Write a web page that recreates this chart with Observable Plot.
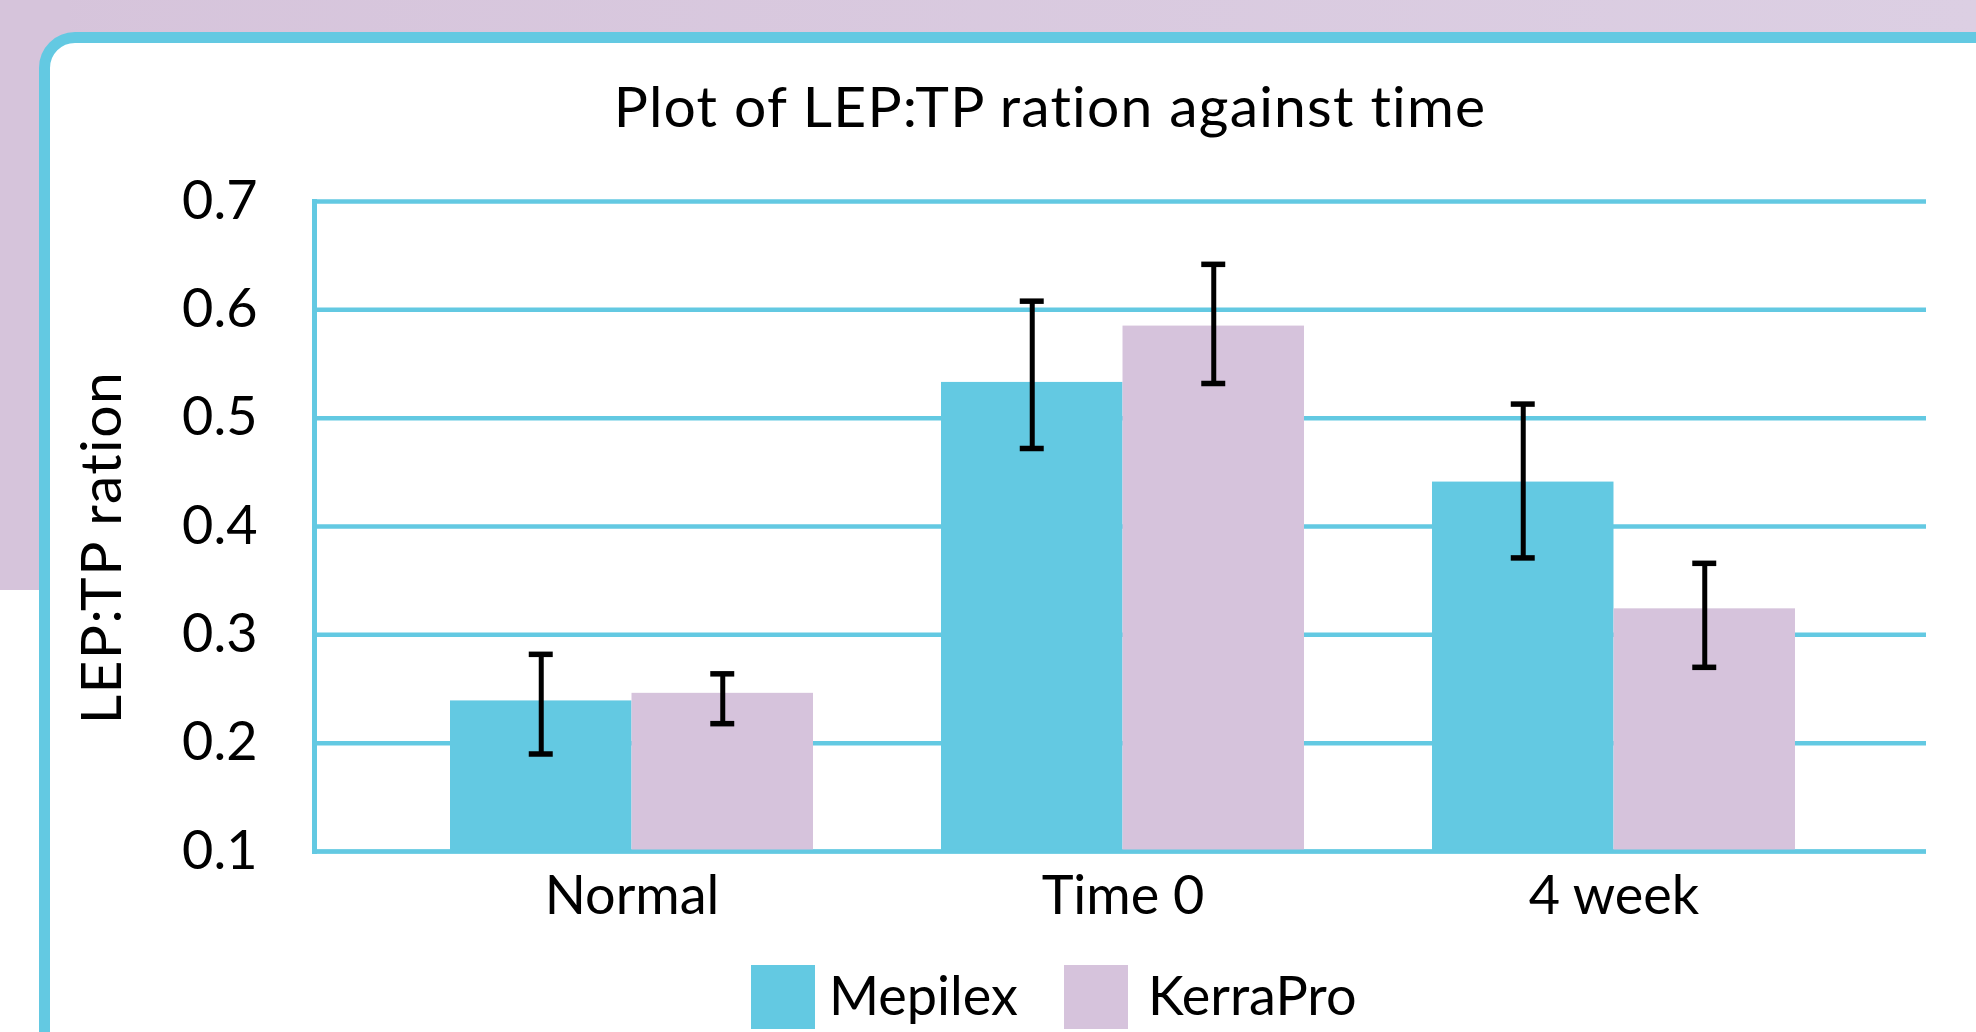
<!DOCTYPE html>
<html>
<head>
<meta charset="utf-8">
<script src="https://cdn.jsdelivr.net/npm/d3@7"></script>
<script src="https://cdn.jsdelivr.net/npm/@observablehq/plot@0.6"></script>
<style>
  html, body { margin: 0; padding: 0; width: 1976px; height: 1032px; overflow: hidden; background: #ffffff; font-family: Lato, "Noto Sans", sans-serif; color: #000; }
  #bgTop { position: absolute; left: 0; top: 0; width: 1976px; height: 70px; background: linear-gradient(90deg, #d6c4db, #dccfe3); }
  #bgLeft { position: absolute; left: 0; top: 0; width: 70px; height: 590px; background: #d6c4db; }
  #card { position: absolute; left: 39px; top: 32px; width: 2100px; height: 1200px; box-sizing: border-box; border: 11px solid #63c9e2; border-radius: 36px; background: #fff; }
  #title { position: absolute; left: 450px; width: 1200px; top: 77px; text-align: center; font-size: 57px; line-height: 57px; letter-spacing: 1.2px; white-space: nowrap; }
  #ylabel { position: absolute; left: -151px; top: 519px; width: 500px; height: 57px; line-height: 57px; font-size: 57px; letter-spacing: 1.4px; text-align: center; transform: rotate(-90deg); transform-origin: 50% 50%; white-space: nowrap; }
  #chart { position: absolute; left: 0; top: 150px; }
  .sw { position: absolute; top: 965px; width: 64px; height: 64px; }
  .lt { position: absolute; top: 968px; font-size: 54px; line-height: 54px; letter-spacing: 0px; white-space: nowrap; }
</style>
</head>
<body>
<div id="bgTop"></div>
<div id="bgLeft"></div>
<div id="card"></div>
<div id="title">Plot of LEP:TP ration against time</div>
<div id="ylabel">LEP:TP ration</div>
<div id="chart"></div>
<div id="legend"></div>
<script>
// ---- data ----
const categories = ["Normal", "Time 0", "4 week"];
const series = ["Mepilex", "KerraPro"];
const mepilexMean = [0.239, 0.533, 0.441];
const mepilexLow  = [0.190, 0.472, 0.371];
const mepilexHigh = [0.282, 0.608, 0.513];
const kerraProMean = [0.246, 0.585, 0.324];
const kerraProLow  = [0.218, 0.532, 0.270];
const kerraProHigh = [0.264, 0.642, 0.366];
const yTicks = [0.1, 0.2, 0.3, 0.4, 0.5, 0.6, 0.7];
const seriesColors = ["#63c9e2", "#d6c3dc"];

// ---- layout ----
const W = 1976, H = 790;
const mLeft = 314, mRight = 50, mTop = 51, mBottom = 89;
const padInner = 0.2607, padOuter = 0.2718;
const frameW = W - mLeft - mRight;
const step = frameW / (categories.length - padInner + 2 * padOuter);
const bw = step * (1 - padInner);
const cyan = "#63c9e2";
const yMin = yTicks[0];

const rowsM = categories.map((c, i) => ({category: c, series: series[0], mean: mepilexMean[i], low: mepilexLow[i], high: mepilexHigh[i]}));
const rowsK = categories.map((c, i) => ({category: c, series: series[1], mean: kerraProMean[i], low: kerraProLow[i], high: kerraProHigh[i]}));

const capW = 24;
function errorMarks(rows, dx) {
  return [
    Plot.ruleX(rows, {x: "category", y1: "low", y2: "high", dx, stroke: "#000", strokeWidth: 5}),
    Plot.tickY(rows, {x: "category", y: "high", dx, insetLeft: (bw - capW) / 2, insetRight: (bw - capW) / 2, stroke: "#000", strokeWidth: 5.5}),
    Plot.tickY(rows, {x: "category", y: "low", dx, insetLeft: (bw - capW) / 2, insetRight: (bw - capW) / 2, stroke: "#000", strokeWidth: 5.5})
  ];
}

const chart = Plot.plot({
  width: W,
  height: H,
  marginLeft: mLeft,
  marginRight: mRight,
  marginTop: mTop,
  marginBottom: mBottom,
  style: {fontFamily: "Lato, 'Noto Sans', sans-serif", fontSize: "54px", color: "#000", background: "transparent"},
  x: {domain: categories, type: "band", paddingInner: padInner, paddingOuter: padOuter, align: 0.509, label: null},
  y: {domain: [yTicks[0], yTicks[yTicks.length - 1]], label: null},
  color: {domain: series, range: seriesColors},
  marks: [
    Plot.ruleY(yTicks, {stroke: cyan, strokeWidth: 4.5}),
    Plot.barY(rowsM, {x: "category", y1: () => yMin, y2: "mean", fill: "series", insetRight: bw / 2, insetLeft: 0}),
    Plot.barY(rowsK, {x: "category", y1: () => yMin, y2: "mean", fill: "series", insetLeft: bw / 2, insetRight: 0}),
    Plot.ruleY([yMin], {stroke: cyan, strokeWidth: 4}),
    Plot.frame({anchor: "left", stroke: cyan, strokeWidth: 5}),
    ...errorMarks(rowsM, -bw / 4),
    ...errorMarks(rowsK, bw / 4),
    Plot.axisY(yTicks, {tickSize: 0, tickPadding: 57, tickFormat: d => d.toFixed(1), label: null, fontSize: 54}),
    Plot.axisX({tickSize: 0, tickPadding: 24, label: null, fontSize: 54})
  ]
});
document.getElementById("chart").appendChild(chart);

// ---- legend ----
const legend = document.getElementById("legend");
const swX = [751, 1064], txX = [829, 1148];
series.forEach((s, i) => {
  const sw = document.createElement("div");
  sw.className = "sw";
  sw.style.left = swX[i] + "px";
  sw.style.background = seriesColors[i];
  legend.appendChild(sw);
  const t = document.createElement("div");
  t.className = "lt";
  t.style.left = txX[i] + "px";
  t.textContent = s;
  legend.appendChild(t);
});
</script>
</body>
</html>
